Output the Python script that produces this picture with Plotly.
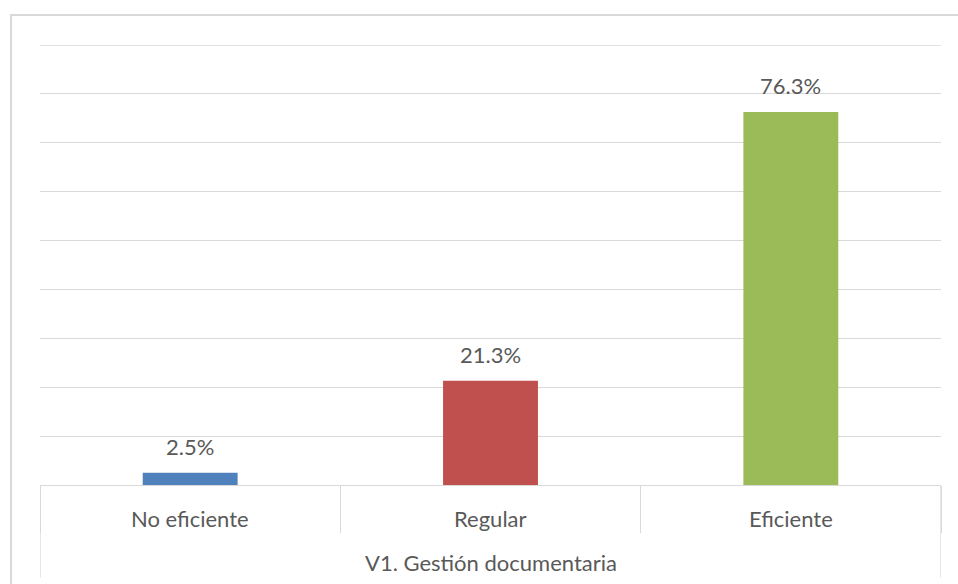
import plotly.graph_objects as go

# Data
categories = ["No eficiente", "Regular", "Eficiente"]
percentages = [2.5, 21.3, 76.3]
bar_colors = ["#4F81BD", "#C0504D", "#9BBB59"]
group_label = "V1. Gestión documentaria"
y_max = 90

GRID = "#D9D9D9"
TEXT = "#595959"
FONT = "Lato, Calibri, Carlito, sans-serif"
FSIZE = 22

fig = go.Figure()
fig.add_trace(go.Bar(
    x=categories,
    y=percentages,
    marker=dict(color=bar_colors, line=dict(width=0)),
    width=0.316,
    hoverinfo="skip",
))

# Value labels above each bar
for cat, val in zip(categories, percentages):
    fig.add_annotation(
        x=cat, y=val, xref="x", yref="y",
        text=f"{val:.1f}%", showarrow=False,
        yanchor="bottom", yshift=11,
        font=dict(family=FONT, size=FSIZE, color=TEXT),
    )

# Category labels in the first row under the axis
for cat in categories:
    fig.add_annotation(
        x=cat, y=-0.075, xref="x", yref="paper",
        text=cat, showarrow=False, yanchor="middle",
        font=dict(family=FONT, size=FSIZE, color=TEXT),
    )

# Group label in the second row
fig.add_annotation(
    x=0.5, y=-0.177, xref="paper", yref="paper",
    text=group_label, showarrow=False, yanchor="middle",
    font=dict(family=FONT, size=FSIZE, color=TEXT),
)

# Outer dividers spanning both label rows
for xb in (-0.5, len(categories) - 0.5):
    fig.add_shape(type="line", xref="x", yref="paper",
                  x0=xb, x1=xb, y0=0, y1=-0.21,
                  line=dict(color=GRID, width=1.3), layer="below")

# Top gridline at the axis maximum
fig.add_shape(type="line", xref="paper", yref="y",
              x0=0, x1=1, y0=y_max, y1=y_max,
              line=dict(color=GRID, width=1.3), layer="below")

# Chart frame
fig.add_shape(type="rect", xref="paper", yref="paper",
              x0=-0.0322, x1=1.06, y0=-0.4, y1=1.068,
              line=dict(color=GRID, width=2), fillcolor="rgba(0,0,0,0)",
              layer="below")

fig.update_layout(
    width=958, height=584,
    margin=dict(l=40, r=17, t=45, b=99),
    paper_bgcolor="white", plot_bgcolor="white",
    showlegend=False,
    xaxis=dict(
        type="category",
        showgrid=False, zeroline=False,
        showline=True, linecolor=GRID, linewidth=1.3,
        ticks="outside", tickson="boundaries", ticklen=47,
        tickcolor=GRID, tickwidth=1.3,
        showticklabels=False,
        range=[-0.5, 2.5],
        fixedrange=True,
    ),
    yaxis=dict(
        range=[0, y_max], dtick=10,
        showgrid=True, gridcolor=GRID, gridwidth=1.3,
        zeroline=False, showline=False,
        showticklabels=False, ticks="",
        fixedrange=True,
    ),
)

fig.write_html("out.html")
